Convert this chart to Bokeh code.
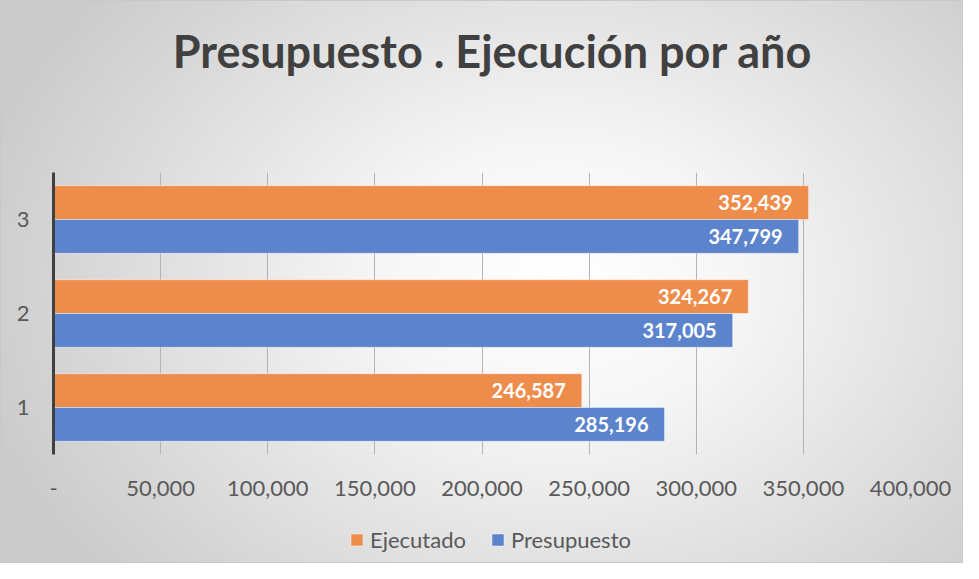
from bokeh.plotting import figure
from bokeh.layouts import column
from bokeh.models import (ColumnDataSource, Range1d, FixedTicker, Legend,
                          LegendItem, Label)
from bokeh.transform import dodge
from bokeh.core.properties import value
from bokeh.embed import file_html
from bokeh.resources import INLINE

# ---- data ----
categories = [1, 2, 3]
category_labels = ["1", "2", "3"]
ejecutado = [246587, 324267, 352439]
presupuesto = [285196, 317005, 347799]
x_ticks = [0, 50000, 100000, 150000, 200000, 250000, 300000, 350000, 400000]
x_tick_labels = ["-", "50,000", "100,000", "150,000", "200,000", "250,000",
                 "300,000", "350,000", "400,000"]
title_text = "Presupuesto . Ejecución por año"
series_names = ["Ejecutado", "Presupuesto"]

FONT = "Lato"
ORANGE = "#EE8C4C"
BLUE = "#5B84CD"
TXT = "#595959"
W = 963


def strip(height):
    f = figure(width=W, height=height, output_backend="svg", toolbar_location=None,
               x_range=Range1d(0, 1), y_range=Range1d(0, 1),
               x_axis_type=None, y_axis_type=None,
               min_border_left=0, min_border_right=0, min_border_top=0,
               min_border_bottom=0)
    f.grid.visible = False
    f.outline_line_color = None
    f.background_fill_alpha = 0
    f.border_fill_alpha = 0
    return f


# ---- title strip ----
tf = strip(110)
tf.add_layout(Label(x=439, y=60, x_units="screen", y_units="screen", text=title_text,
                    text_align="center", text_baseline="alphabetic", text_font=FONT,
                    text_font_style="bold", text_font_size="45px", text_color="#404040"))

# ---- main chart ----
src = ColumnDataSource(dict(
    cat=categories,
    ej=ejecutado,
    pr=presupuesto,
    ej_lbl=[f"{v:,}" for v in ejecutado],
    pr_lbl=[f"{v:,}" for v in presupuesto],
))

p = figure(width=W, height=403, output_backend="svg", toolbar_location=None,
           x_range=Range1d(0, 400000), y_range=Range1d(0.5, 3.5),
           min_border_left=53, min_border_right=53, min_border_top=62,
           min_border_bottom=59)
p.title = None
p.background_fill_alpha = 0
p.border_fill_alpha = 0
p.outline_line_color = None

r_ej = p.hbar(y=dodge("cat", 0.18, range=p.y_range), right="ej", left=0, height=0.36,
              source=src, fill_color=ORANGE, line_color="#ffffff", line_alpha=0.45, line_width=1)
r_pr = p.hbar(y=dodge("cat", -0.18, range=p.y_range), right="pr", left=0, height=0.36,
              source=src, fill_color=BLUE, line_color="#ffffff", line_alpha=0.45, line_width=1)

p.text(x="ej", y=dodge("cat", 0.18, range=p.y_range), text="ej_lbl", source=src,
       x_offset=-16, text_align="right", text_baseline="middle",
       text_color="white", text_font=value(FONT), text_font_style="bold",
       text_font_size="20px")
p.text(x="pr", y=dodge("cat", -0.18, range=p.y_range), text="pr_lbl", source=src,
       x_offset=-16, text_align="right", text_baseline="middle",
       text_color="white", text_font=value(FONT), text_font_style="bold",
       text_font_size="20px")

p.xaxis.ticker = FixedTicker(ticks=x_ticks)
p.xaxis.major_label_overrides = dict(zip(x_ticks, x_tick_labels))
p.xaxis.axis_line_color = None
p.xaxis.major_tick_line_color = None
p.xaxis.minor_tick_line_color = None
p.xaxis.major_label_standoff = 20
p.xaxis.major_label_text_font = FONT
p.xaxis.major_label_text_font_size = "22px"
p.xaxis.major_label_text_color = TXT

p.yaxis.ticker = FixedTicker(ticks=categories)
p.yaxis.major_label_overrides = dict(zip(categories, category_labels))
p.yaxis.axis_line_color = "#404040"
p.yaxis.axis_line_width = 3
p.yaxis.major_tick_line_color = None
p.yaxis.minor_tick_line_color = None
p.yaxis.major_label_standoff = 18
p.yaxis.major_label_text_font = FONT
p.yaxis.major_label_text_font_size = "22px"
p.yaxis.major_label_text_color = TXT

p.xgrid.ticker = FixedTicker(ticks=x_ticks[1:])
p.xgrid.grid_line_color = "#b3b3b3"
p.xgrid.grid_line_width = 1
p.ygrid.grid_line_color = None

# ---- legend strip ----
lg = strip(50)
proxy = ColumnDataSource(dict(y=[-10], right=[1]))  # off-screen proxies for legend swatches
g_ej = lg.hbar(y="y", right="right", height=1, source=proxy, fill_color=ORANGE,
               line_color="#ffffff", line_alpha=0.45)
g_pr = lg.hbar(y="y", right="right", height=1, source=proxy, fill_color=BLUE,
               line_color="#ffffff", line_alpha=0.45)
legend = Legend(items=[LegendItem(label=series_names[0], renderers=[g_ej]),
                       LegendItem(label=series_names[1], renderers=[g_pr])],
                orientation="horizontal", location=(296, 10),
                glyph_width=15, glyph_height=15, label_standoff=6, spacing=24,
                label_text_font=FONT, label_text_font_size="22px",
                label_text_color=TXT, background_fill_alpha=0, border_line_color=None,
                padding=4, margin=0)
lg.add_layout(legend, "center")

layout = column(tf, p, lg, spacing=0)
layout.styles = {
    "background": "radial-gradient(ellipse 62% 80% at 58% 50%, #ffffff 0%, #f6f6f6 30%, #cbcbcb 100%)",
    "box-shadow": "inset 0 0 0 1px #c8c8c8",
}

open("out.html", "w").write(file_html(layout, INLINE))
